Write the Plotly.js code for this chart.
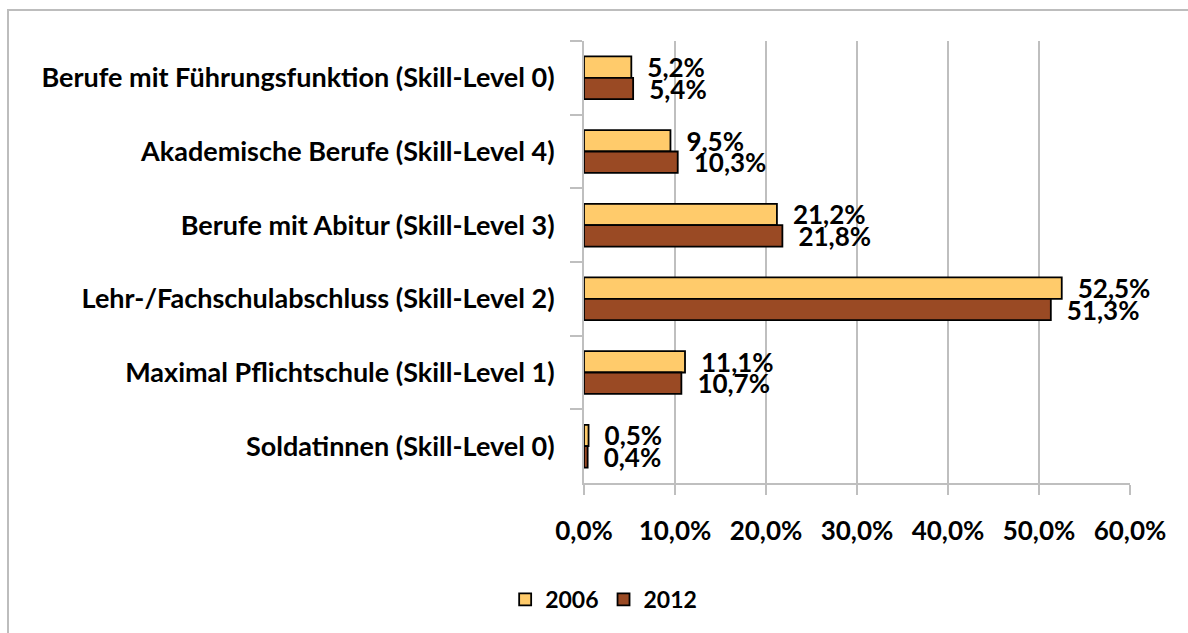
<!DOCTYPE html>
<html>
<head>
<meta charset="utf-8">
<script src="https://cdn.plot.ly/plotly-3.0.1.min.js"></script>
<style>
  html, body { margin: 0; padding: 0; background: #fff; }
  #chart { position: absolute; left: 0; top: 0; width: 1188px; height: 633px; }
  #frame { position: absolute; left: 7px; top: 9px; width: 1200px; height: 700px;
           border-top: 2px solid #bdbdbd; border-left: 2px solid #bdbdbd; pointer-events: none; }
</style>
</head>
<body>
<div id="chart"></div>
<div id="frame"></div>
<script>
// Categories listed top to bottom
const categories = [
  "Berufe mit Führungsfunktion (Skill-Level 0)",
  "Akademische Berufe (Skill-Level 4)",
  "Berufe mit Abitur (Skill-Level 3)",
  "Lehr-/Fachschulabschluss (Skill-Level 2)",
  "Maximal Pflichtschule (Skill-Level 1)",
  "Soldatinnen (Skill-Level 0)"
];
const values2006 = [5.2, 9.5, 21.2, 52.5, 11.1, 0.5];
const values2012 = [5.4, 10.3, 21.8, 51.3, 10.7, 0.4];
const xTickVals = [0, 10, 20, 30, 40, 50, 60];
const xTickText = ["0,0%", "10,0%", "20,0%", "30,0%", "40,0%", "50,0%", "60,0%"];

const fmt = v => "\u2002" + v.toFixed(1).replace(".", ",") + "%";
const FONT = "Lato, 'Open Sans', sans-serif";

const common = {
  type: "bar",
  orientation: "h",
  y: categories,
  textposition: "outside",
  cliponaxis: false,
  constraintext: "none",
  textfont: { family: FONT, size: 26, color: "#000", weight: 700 },
  hoverinfo: "skip"
};

const traces = [
  Object.assign({}, common, {
    name: "2006",
    x: values2006,
    text: values2006.map(fmt),
    marker: { color: "#FFCB6B", line: { color: "#000", width: 1.8 } }
  }),
  Object.assign({}, common, {
    name: "2012",
    x: values2012,
    text: values2012.map(fmt),
    marker: { color: "#9A4A24", line: { color: "#000", width: 1.8 } }
  })
];

const layout = {
  width: 1188, height: 633,
  margin: { l: 584, r: 58, t: 41, b: 148 },
  paper_bgcolor: "rgba(0,0,0,0)",
  plot_bgcolor: "rgba(0,0,0,0)",
  font: { family: FONT, size: 26, color: "#000", weight: 700 },
  barmode: "group",
  bargap: 0.42,
  bargroupgap: 0,
  showlegend: true,
  legend: {
    orientation: "h", x: 0.036, xanchor: "center", y: -0.2635, yanchor: "middle",
    font: { family: FONT, size: 23, color: "#000", weight: 700 },
    itemwidth: 30
  },
  xaxis: {
    range: [0, 60],
    tickvals: xTickVals, ticktext: xTickText,
    showgrid: true, gridcolor: "#bfbfbf", gridwidth: 2,
    showline: true, linecolor: "#bfbfbf", linewidth: 2,
    ticks: "outside", ticklen: 10, tickcolor: "#bfbfbf", tickwidth: 2,
    ticklabelstandoff: 14,
    zeroline: false,
    tickfont: { family: FONT, size: 26, color: "#000", weight: 700 },
    fixedrange: true
  },
  yaxis: {
    type: "category",
    autorange: "reversed",
    showgrid: false,
    showline: true, linecolor: "#bfbfbf", linewidth: 2,
    ticks: "outside", tickson: "boundaries", ticklen: 12, tickcolor: "#bfbfbf", tickwidth: 2,
    ticklabelstandoff: 22,
    tickfont: { family: FONT, size: 27, color: "#000", weight: 700 },
    fixedrange: true
  }
};

Plotly.newPlot("chart", traces, layout, { displayModeBar: false, staticPlot: true });
</script>
</body>
</html>
